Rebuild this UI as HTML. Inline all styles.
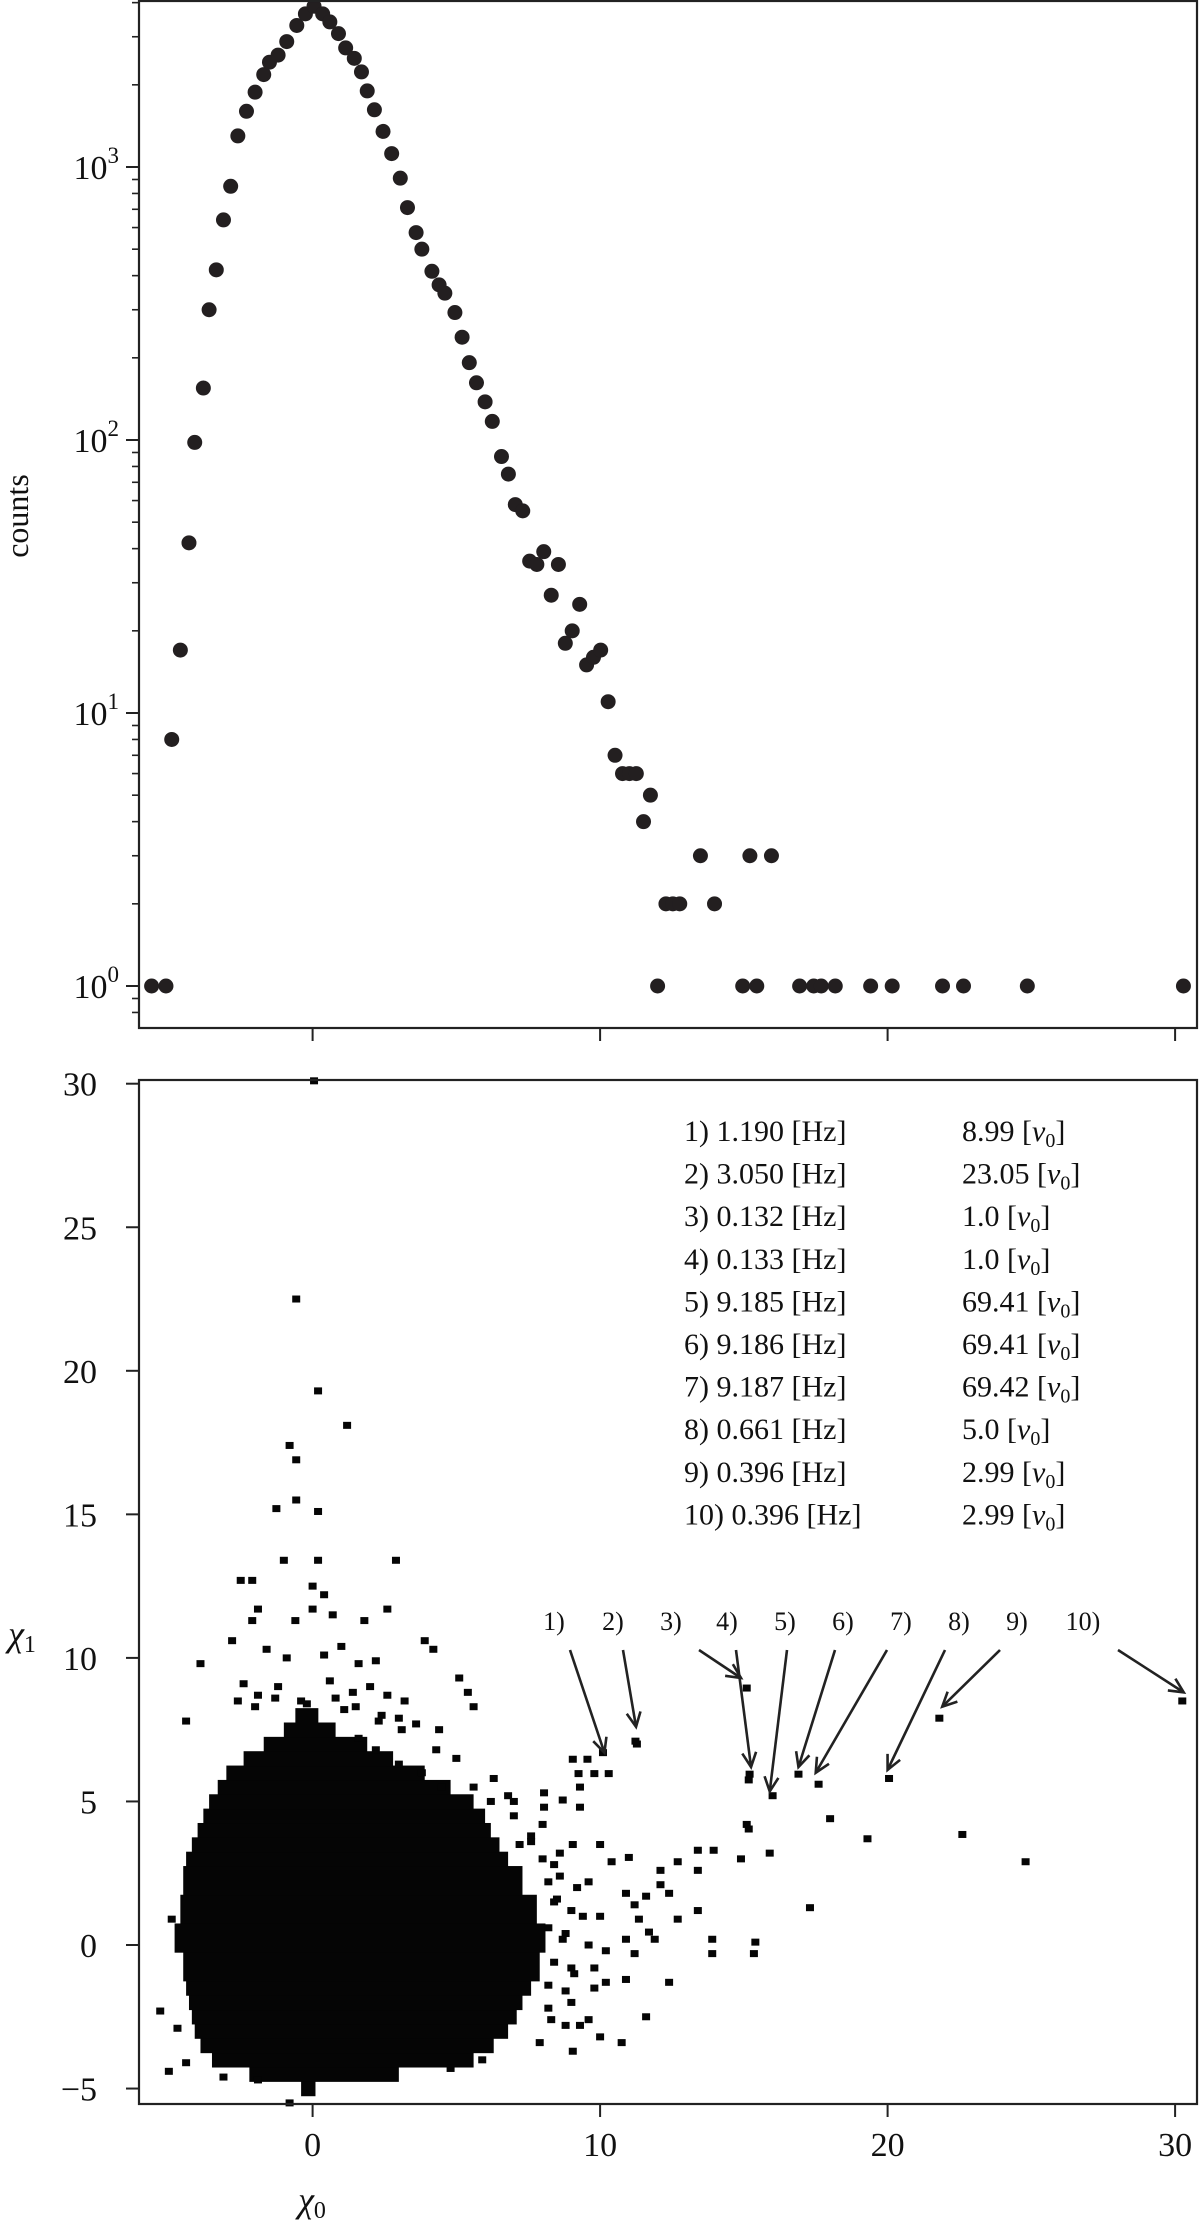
<!DOCTYPE html>
<html><head><meta charset="utf-8"><style>
html,body{margin:0;padding:0;background:#fff}
svg{display:block}
text{font-family:"Liberation Serif",serif;fill:#111}
</style></head><body>
<svg id="c" width="1200" height="2222" viewBox="0 0 1200 2222" xmlns="http://www.w3.org/2000/svg">
<g id="topg"></g>
<g id="botg"></g>
</svg>
<script>
// ---- top panel data ----
const histX = [-5.6,-5.1,-4.9,-4.6,-4.3,-4.1,-3.8,-3.6,-3.35,-3.1,-2.85,-2.6,-2.3,-2.0,-1.7,-1.5,-1.2,-0.9,-0.55,-0.25,0.05,0.35,0.6,0.9,1.15,1.45,1.7,1.9,2.15,2.45,2.75,3.05,3.3,3.6,3.8,4.15,4.4,4.6,4.95,5.2,5.45,5.7,6.0,6.25,6.57,6.81,7.05,7.31,7.55,7.8,8.04,8.3,8.55,8.79,9.03,9.29,9.53,9.77,10.02,10.28,10.52,10.78,11.02,11.26,11.51,11.75,12.0,12.29,12.53,12.77,13.49,13.98,15.21,15.96,14.96,15.45,16.94,17.43,17.69,18.18,19.41,20.16,21.91,22.64,24.86,30.29];
const histCounts = [1,1,8,17,42,98,155,300,420,640,850,1300,1600,1880,2180,2420,2570,2880,3300,3640,3880,3640,3400,3080,2730,2500,2230,1900,1620,1350,1120,910,710,575,500,415,370,345,293,238,192,162,138,117,87,75,58,55,36,35,39,27,35,18,20,25,15,16,17,11,7,6,6,6,4,5,1,2,2,2,3,2,3,3,1,1,1,1,1,1,1,1,1,1,1,1];
const topXTicks = [0,10,20,30];
const topYTicks = [0,1,2,3];
const topYTickLabels = ["10","10","10","10"];
// ---- bottom panel data ----
const botXTicks = [0,10,20,30];
const botXTickLabels = ["0","10","20","30"];
const botYTicks = [-5,0,5,10,15,20,25,30];
const botYTickLabels = ["\u22125","0","5","10","15","20","25","30"];
const blobY0 = [-5.25,-4.75,-4.25,-3.75,-3.25,-2.75,-2.25,-1.75,-1.25,-0.25,0.75,1.75,2.75,3.25,3.75,4.25,4.75,5.25,5.75,6.25,6.75,7.25,7.75];
const blobY1 = [-4.75,-4.25,-3.75,-3.25,-2.75,-2.25,-1.75,-1.25,-0.25,0.75,1.75,2.75,3.25,3.75,4.25,4.75,5.25,5.75,6.25,6.75,7.25,7.75,8.25];
const blobXMin = [-0.4,-2.2,-3.5,-3.9,-4.1,-4.2,-4.3,-4.4,-4.5,-4.8,-4.6,-4.5,-4.4,-4.2,-4.0,-3.8,-3.6,-3.3,-3.0,-2.4,-1.7,-1.0,-0.6];
const blobXMax = [0.1,3.0,5.6,6.3,6.8,7.1,7.3,7.6,7.9,8.1,7.8,7.3,6.8,6.5,6.2,6.0,5.6,4.8,3.9,2.8,1.9,0.8,0.2];
const cellX = [0.05,-0.57,0.19,1.2,-0.8,-0.57,-0.57,-1.26,0.19,-1.0,0.19,2.9,-2.5,-2.1,0.0,0.4,-1.9,0.0,0.7,2.6,-2.1,-0.6,1.8,-2.8,3.9,4.2,-3.9,5.1,5.4,5.6,-4.4,
 -1.6,-0.9,0.4,1.0,1.6,2.2,-2.4,-1.2,0.6,1.4,2.0,2.6,3.2,-2.0,-0.2,1.1,2.4,3.0,3.6,4.4,
 11.28,9.56,9.05,9.25,9.8,10.3,9.3,8.05,8.7,9.3,8.05,15.17,15.17,13.4,13.95,14.9,13.4,12.1,12.7,11.0,10.4,10.0,9.05,12.1,12.4,11.6,10.9,11.2,13.4,12.7,11.35,11.7,11.9,10.9,11.2,13.9,15.35,10.9,12.4,11.6,10.2,9.8,10.0,10.75,9.05,9.3,9.6,8.8,
 8.2,8.6,9.2,9.6,8.4,9.0,9.4,10.0,8.2,8.8,9.6,10.2,8.4,9.0,9.8,8.2,8.8,8.2,9.0,8.0,8.6,7.6,8.0,7.0,6.2,5.6,4.5,3.8,3.0,2.2,1.6,6.8,7.2,-4.9,-5.3,-4.7,
 10.1,11.23,15.1,15.2,16.0,16.9,17.6,20.05,21.8,30.25,15.1,15.9,18.0,19.3,22.6,24.8,17.3,15.4,13.9,-0.8,-1.9,
 -2.6,-1.9,-1.3,-0.4,0.8,1.5,2.3,3.1,4.3,5.0,6.3,7.0,7.6,8.4,8.5,8.7,9.1,8.3,7.9,-5.0,-4.4,-3.1,4.8,5.9];
const cellY = [30.1,22.5,19.3,18.1,17.4,16.9,15.5,15.2,15.1,13.4,13.4,13.4,12.7,12.7,12.5,12.2,11.7,11.7,11.5,11.7,11.3,11.3,11.3,10.6,10.6,10.3,9.8,9.3,8.8,8.3,7.8,
 10.3,10.0,10.1,10.4,9.8,9.9,9.1,9.0,9.2,8.8,9.0,8.7,8.5,8.3,8.4,8.2,8.0,7.9,7.7,7.5,
 7.0,6.47,6.47,5.97,5.97,5.97,5.5,5.3,5.05,4.8,4.8,5.75,4.04,3.3,3.3,3.0,2.6,2.6,2.9,3.05,2.9,3.5,3.5,2.1,1.8,1.7,1.8,1.4,1.2,0.9,0.9,0.45,0.2,0.2,-0.3,-0.3,-0.3,-1.2,-1.3,-2.5,-1.3,-1.5,-3.2,-3.4,-3.7,-2.8,-2.6,-2.8,
 2.2,2.4,2.0,2.2,1.5,1.2,1.0,1.0,0.6,0.4,0.0,-0.2,-0.6,-0.8,-0.8,-1.4,-1.6,-2.2,-2.0,3.0,3.2,3.8,4.2,4.5,5.0,5.5,5.5,6.0,6.3,6.8,7.2,5.2,3.5,0.9,-2.3,-2.9,
 6.7,7.1,8.95,5.95,5.2,5.95,5.6,5.8,7.9,8.5,4.2,3.2,4.4,3.7,3.85,2.9,1.3,0.1,0.2,-5.5,-4.7,
 8.5,8.7,8.6,8.5,8.6,8.3,7.8,7.5,6.8,6.5,5.8,5.0,3.6,2.8,1.6,0.2,-1.0,-2.6,-3.4,-4.4,-4.1,-4.6,-4.3,-4.0];
const legendIdx = ["1)","2)","3)","4)","5)","6)","7)","8)","9)","10)"];
const legendHz = ["1.190","3.050","0.132","0.133","9.185","9.186","9.187","0.661","0.396","0.396"];
const legendNu = ["8.99","23.05","1.0","1.0","69.41","69.41","69.42","5.0","2.99","2.99"];
const arrowTipX = [10.15,11.25,14.9,15.25,15.9,16.9,17.5,20.0,21.9,30.3];
const arrowTipY = [6.7,7.6,9.3,6.2,5.35,6.2,6.0,6.1,8.3,8.8];

const NS="http://www.w3.org/2000/svg";
function mk(tag, attrs, parent, txt){const e=document.createElementNS(NS,tag);for(const k in attrs)e.setAttribute(k,attrs[k]);if(txt!==undefined)e.textContent=txt;parent.appendChild(e);return e;}
const L=139,R=1197;
const xs = x => 312.6 + 28.75*x;
const yTop = c => 986 - 273*Math.log10(c);
const yBot = y => 1945 - 28.71*y;
const topG=document.getElementById('topg'), botG=document.getElementById('botg');

// top panel
for(let i=0;i<Math.min(histX.length,histCounts.length);i++){
  const d=mk('circle',{cx:xs(histX[i]),cy:yTop(histCounts[i]),r:7.5,fill:'#231f20'},topG);
  
  
}
const fr=mk('rect',{x:L,y:1,width:R-L,height:1027,fill:'none',stroke:'#222','stroke-width':2.2},topG);


topXTicks.forEach(t=>{const l=mk('line',{x1:xs(t),x2:xs(t),y1:1028,y2:1041,stroke:'#222','stroke-width':2},topG);
  
  });
topYTicks.forEach((p,i)=>{
  const y=yTop(Math.pow(10,p));
  const l=mk('line',{x1:L-13,x2:L,y1:y,y2:y,stroke:'#222','stroke-width':2},topG);
  
  
  const t=mk('text',{x:L-20,y:y+12,'text-anchor':'end','font-size':34},topG);
  
  
  t.textContent=topYTickLabels[i];
  mk('tspan',{dy:-16,'font-size':23},t,String(p));
  for(let m=2;m<10;m++){const ym=yTop(m*Math.pow(10,p)); if(ym<2)continue;
    const ml=mk('line',{x1:L-7,x2:L,y1:ym,y2:ym,stroke:'#222','stroke-width':1.6},topG);
    
    }
  if(p===0){[0.8,0.9].forEach(f=>{const yy=yTop(f); if(yy<1028){const ml=mk('line',{x1:L-7,x2:L,y1:yy,y2:yy,stroke:'#222','stroke-width':1.6},topG);
    
    }});}
});
const yl=mk('text',{x:0,y:0,'text-anchor':'middle','font-size':32,transform:'translate(28,516) rotate(-90)'},topG,'counts');



// bottom panel
for(let i=0;i<blobY0.length;i++){
  const r=mk('rect',{x:xs(blobXMin[i]),y:yBot(blobY1[i]),width:xs(blobXMax[i])-xs(blobXMin[i]),height:yBot(blobY0[i])-yBot(blobY1[i])+0.5,fill:'#050505'},botG);
  
  
}
for(let i=0;i<Math.min(cellX.length,cellY.length);i++){
  const r=mk('rect',{x:xs(cellX[i])-4,y:yBot(cellY[i])-3.5,width:8,height:7,fill:'#050505'},botG);
  
  
}
const fb=mk('rect',{x:L,y:1080,width:R-L,height:1024,fill:'none',stroke:'#222','stroke-width':2.2},botG);


botXTicks.forEach((t,i)=>{
  const l=mk('line',{x1:xs(t),x2:xs(t),y1:2104,y2:2117,stroke:'#222','stroke-width':2},botG);
  
  
  const tx=mk('text',{x:xs(t),y:2156,'text-anchor':'middle','font-size':34},botG,botXTickLabels[i]);
  
  
});
botYTicks.forEach((t,i)=>{
  const l=mk('line',{x1:L-13,x2:L,y1:yBot(t),y2:yBot(t),stroke:'#222','stroke-width':2},botG);
  
  
  const tx=mk('text',{x:L-42,y:yBot(t)+12,'text-anchor':'end','font-size':34},botG,botYTickLabels[i]);
  
  
});
const xt=mk('text',{x:312,y:2212,'text-anchor':'middle','font-size':36,'font-style':'italic'},botG,'\u03C7');


mk('tspan',{dy:6,'font-size':24,'font-style':'normal'},xt,'0');
const ytt=mk('text',{x:22,y:1646,'text-anchor':'middle','font-size':36,'font-style':'italic'},botG,'\u03C7');


mk('tspan',{dy:6,'font-size':24,'font-style':'normal'},ytt,'1');

// legend table
for(let i=0;i<legendIdx.length;i++){
  const y=1141+i*42.6;
  const t1=mk('text',{x:684,y:y,'font-size':30},botG,legendIdx[i]+' '+legendHz[i]+' [Hz]');
  
  
  const t2=mk('text',{x:962,y:y,'font-size':30},botG,legendNu[i]+' [');
  
  
  mk('tspan',{'font-style':'italic'},t2,'\u03BD');
  mk('tspan',{dy:6,'font-size':20},t2,'0');
  mk('tspan',{dy:-6},t2,']');
}
// arrows
const labX=[554,613,671,727,785,843,901,959,1017,1083];
const tailX=[570,623,699,736,787,835,887,945,1000,1118];
for(let i=0;i<legendIdx.length;i++){
  const lt=mk('text',{x:labX[i],y:1630,'text-anchor':'middle','font-size':26},botG,legendIdx[i]);
  
  
  const x1=tailX[i], y1=1650, x2=xs(arrowTipX[i]), y2=yBot(arrowTipY[i]);
  const a=mk('line',{x1:x1,y1:y1,x2:x2,y2:y2,stroke:'#222','stroke-width':2.6},botG);
  
  
  const ang=Math.atan2(y2-y1,x2-x1), h=16, w=0.45;
  const p=`M${x2-h*Math.cos(ang-w)},${y2-h*Math.sin(ang-w)} L${x2},${y2} L${x2-h*Math.cos(ang+w)},${y2-h*Math.sin(ang+w)}`;
  const ah=mk('path',{d:p,fill:'none',stroke:'#222','stroke-width':2.6},botG);
  
  
}
</script>
</body></html>
